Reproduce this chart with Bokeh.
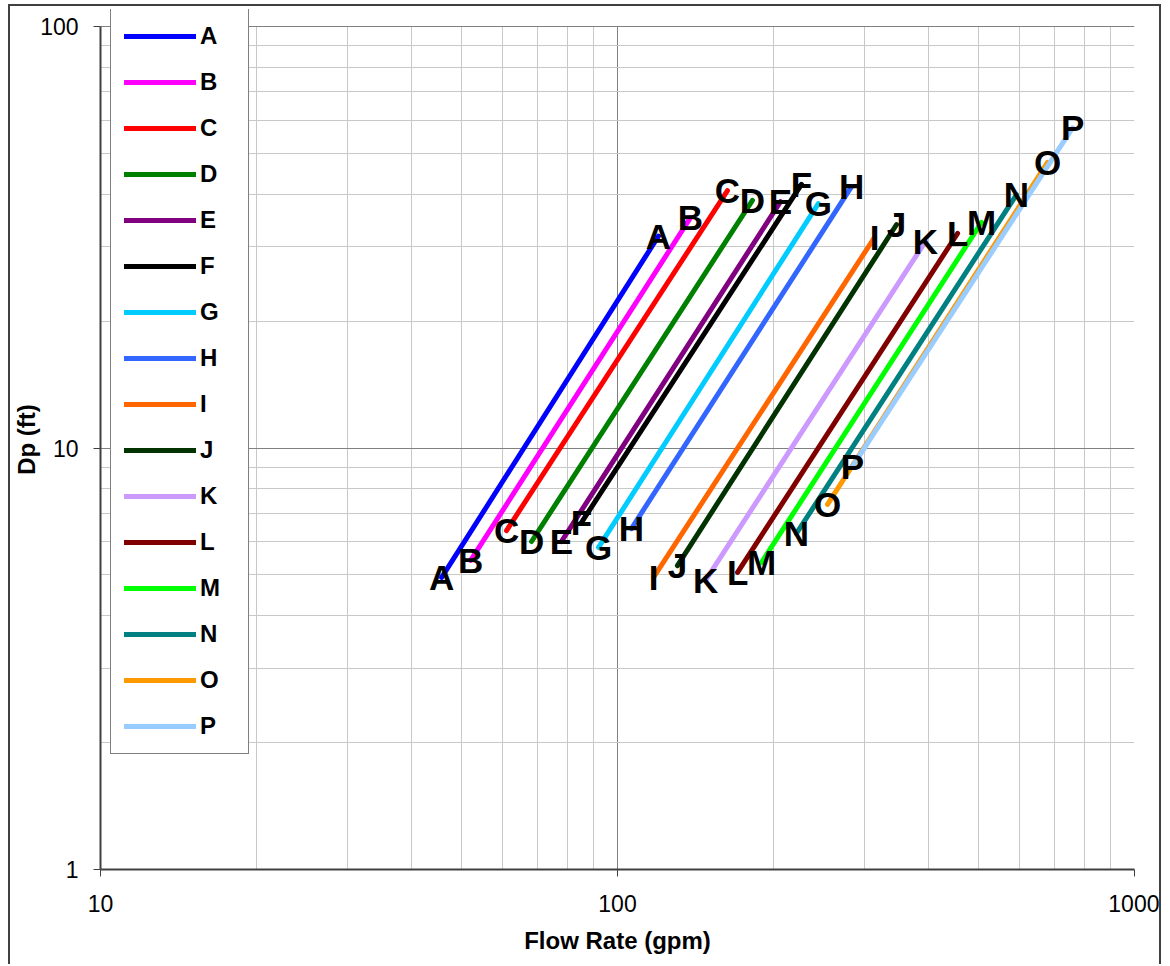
from bokeh.plotting import figure
from bokeh.models import (ColumnDataSource, Legend, LegendItem, FixedTicker,
                          BasicTickFormatter, Range1d, Grid, BoxAnnotation)
from bokeh.core.properties import value
from bokeh.embed import file_html
from bokeh.resources import INLINE

# ---------------- data ----------------
series = ["A", "B", "C", "D", "E", "F", "G", "H",
          "I", "J", "K", "L", "M", "N", "O", "P"]
q_low = [45.7, 52.0, 61.0, 68.2, 77.9, 85.2, 91.9, 106.4,
         117.4, 130.6, 148.0, 170.7, 189.9, 221.9, 254.8, 284.8]
q_high = [120.0, 138.4, 163.2, 182.4, 206.7, 226.9, 244.6, 283.6,
          314.2, 346.6, 394.2, 454.8, 505.9, 591.2, 678.8, 758.9]
dp_low = [4.93, 5.41, 6.37, 6.00, 6.00, 6.66, 5.81, 6.44,
          4.93, 5.26, 4.85, 5.07, 5.35, 6.27, 7.35, 9.04]
dp_high = [31.8, 35.2, 40.8, 38.7, 38.4, 42.2, 38.0, 41.7,
           31.6, 33.9, 30.9, 32.3, 34.3, 39.9, 47.6, 57.5]
colors = ["#0000FF", "#FF00FF", "#FF0000", "#008000", "#800080", "#000000",
          "#00CCFF", "#3366FF", "#FF6600", "#003300", "#CC99FF", "#800000",
          "#00FF00", "#008080", "#FF9900", "#99CCFF"]

x_ticks = [10, 100, 1000]
y_ticks = [1, 10, 100]
x_minor = [m * d for d in (10, 100) for m in range(2, 10)]
y_minor = [m * d for d in (1, 10) for m in range(2, 10)]

FONT = "Liberation Sans"

# plot area: 1..100 spans 843 px; 17 px of head-room above it for the legend
FRAME_H = 860
Y_TOP = 10 ** (2 * FRAME_H / 843)

p = figure(width=1153, height=960, x_axis_type="log", y_axis_type="log",
           x_range=Range1d(10, 1000), y_range=Range1d(1, Y_TOP),
           output_backend="svg", toolbar_location=None,
           min_border_left=90, min_border_right=29,
           min_border_top=3, min_border_bottom=97)
p.styles = {"border-top": "2px solid #404040", "border-left": "2px solid #404040",
            "border-right": "2px solid #404040",
            "margin-left": "8px", "margin-top": "4px"}

p.background_fill_color = "white"
p.border_fill_color = "white"
p.outline_line_color = None

for ax, ticks, minor in ((p.xaxis[0], x_ticks, x_minor), (p.yaxis[0], y_ticks, y_minor)):
    ax.ticker = FixedTicker(ticks=ticks, minor_ticks=minor)
    ax.formatter = BasicTickFormatter()
    ax.axis_line_color = "#404040"
    ax.axis_line_width = 2
    ax.major_tick_line_color = "#404040"
    ax.major_tick_out = 7
    ax.major_tick_in = 0
    ax.minor_tick_line_color = None
    ax.major_label_text_font = FONT
    ax.major_label_text_font_size = "23px"
    ax.major_label_text_color = "black"
    ax.axis_label_text_font = FONT
    ax.axis_label_text_font_size = "24px"
    ax.axis_label_text_font_style = "bold"
    ax.axis_label_text_color = "black"

p.yaxis.bounds = (1, 100)
p.xaxis.axis_label = "Flow Rate (gpm)"
p.yaxis.axis_label = "Dp (ft)"
p.xaxis.major_label_standoff = 18
p.yaxis.major_label_standoff = 15
p.xaxis.axis_label_standoff = 12
p.yaxis.axis_label_standoff = -3

for g in (p.xgrid[0], p.ygrid[0]):
    g.grid_line_color = "#808080"
    g.grid_line_width = 1
    g.minor_grid_line_color = "#C8C8C8"
    g.minor_grid_line_width = 1

if "cross_bounds" in Grid.properties():
    p.xgrid[0].cross_bounds = (1, 100)
else:
    p.add_layout(BoxAnnotation(bottom=100, fill_color="white", fill_alpha=1,
                               line_color=None, level="glyph"))

items = []
for i, s in enumerate(series):
    src = ColumnDataSource(dict(q=[q_low[i], q_high[i]], dp=[dp_low[i], dp_high[i]]))
    r = p.line("q", "dp", source=src, line_color=colors[i], line_width=5,
               line_cap="round")
    items.append(LegendItem(label=s, renderers=[r]))

lab_src = ColumnDataSource(dict(
    q=q_low + q_high,
    dp=dp_low + dp_high,
    name=series + series,
))
p.text("q", "dp", text="name", source=lab_src, text_font=value(FONT),
       text_font_style="bold", text_font_size="35px", text_color="black",
       text_align="center", text_baseline="alphabetic", y_offset=0)

legend = Legend(items=items, location=(10, 115), orientation="vertical",
                glyph_width=72, glyph_height=28, label_height=28, label_width=35,
                spacing=18, padding=13, label_standoff=4, margin=0,
                border_line_color="black", border_line_width=1,
                background_fill_color="white", background_fill_alpha=1,
                label_text_font=FONT, label_text_font_size="24px",
                label_text_font_style="bold", label_text_color="black")
p.add_layout(legend)

open("out.html", "w").write(file_html(p, INLINE))
